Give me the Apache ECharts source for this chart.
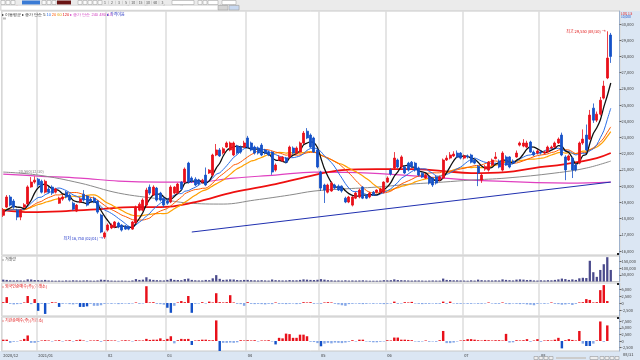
<!DOCTYPE html>
<html><head><meta charset="utf-8">
<script src="https://cdn.jsdelivr.net/npm/echarts@6/dist/echarts.min.js"></script>
<style>html,body{margin:0;padding:0;background:#fff}#c{width:640px;height:360px}</style>
</head><body><div id="c"></div>
<script>
// ---------- DATA ----------
const monthLabels = [[0,'2020/12'],[10,'2021/01'],[30,'02'],[47,'03'],[70,'04'],[91,'05'],[110,'06'],[132,'07'],[154,'08']];
// [open, close, low, high]
const ohlc = [
[18200,18550,18100,18650],[18710,19330,18650,19450],[19330,18830,18750,19450],[19080,18700,18600,19200],[18520,18090,17900,18600],[18090,18520,17900,18600],[18700,18850,18650,18950],[18900,19950,18850,20050],[19950,20250,19900,20560],[20250,20370,20150,20600],
[20430,20070,19950,20500],[20300,19630,19550,20400],[19630,20300,19550,20400],[19820,19630,19550,19950],[19940,19570,19450,20050],[19630,19820,19550,19900],[18950,19260,18900,19350],[19200,19330,19100,19450],[19630,19330,19250,19700],[19450,19140,19050,19550],
[18950,18580,18500,19050],[18460,18830,18400,18900],[19020,19200,18950,19300],[19500,19140,19050,19760],[19390,18830,18750,19450],[19200,19080,19000,19300],[19260,19010,18950,19350],[19080,18400,18300,19150],[18215,17170,17100,18300],[16860,17110,16750,17200],
[17290,17600,17200,17700],[17420,17600,17350,17700],[17480,17790,17400,17850],[17720,17480,17400,17800],[17600,17290,17200,17650],[17540,17350,17300,17600],[17480,17350,17280,17550],[17350,17790,17300,17850],[17730,18710,17700,18800],[18520,18890,18450,19000],
[18520,19140,18450,19250],[18830,19760,18800,19900],[19940,19570,19450,20100],[19450,19940,19400,20050],[19880,19140,19050,19950],[19570,19140,19050,19650],[19260,18830,18700,19350],[19080,18950,18850,19200],[19020,19940,18950,20050],[19570,19940,19500,20000],
[19570,20130,19500,20200],[20250,19820,19750,20300],[20250,21050,20200,21150],[21420,20250,20150,21500],[20500,20310,20200,20600],[20430,20070,20000,20550],[20370,20130,20050,20450],[20250,20370,20150,20450],[20680,20070,20000,21150],[20810,20990,20750,21050],
[20680,21920,20600,22000],[21920,22230,21850,22600],[22230,21860,21800,22350],[22050,22300,21950,22400],[22410,22660,22350,22750],[22230,22660,22150,22750],[21920,22660,21850,22750],[22470,22040,21950,22550],[22410,22100,22000,22500],[22410,22660,22350,22800],
[22970,22410,22350,23100],[22660,22230,22150,22750],[22410,22040,21950,22500],[22350,22040,21950,22450],[22530,21920,21850,22650],[22230,22040,21950,22300],[22100,21920,21850,22200],[22100,20870,20700,22150],[20990,21300,20900,21400],[21610,21790,21550,21900],
[21550,21790,21500,21850],[21730,21480,21400,21800],[21790,22410,21700,22500],[22350,22040,21950,22450],[22040,22350,21950,22450],[22100,22660,22050,22750],[22660,23270,22600,23400],[23390,22970,22900,23580],[23150,22410,22350,23250],[22970,22100,22050,23050],
[22230,21180,21100,22300],[20870,19880,19700,20950],[20070,19760,18960,20150],[19630,20070,19550,20150],[19700,20190,19650,20300],[20070,19880,19800,20150],[20000,19760,19700,20100],[20000,19700,19600,20050],[19260,19020,18950,19350],[19020,19330,18950,19400],
[18830,19330,18750,19400],[19260,19570,19200,19650],[19330,19760,19250,19850],[19940,19260,19200,20000],[19450,19260,19200,19500],[19330,19570,19250,19650],[19630,19450,19400,19700],[19630,19760,19550,19800],[19630,19820,19550,19900],[19630,20250,19550,20300],
[20250,20500,20200,20600],[20990,20750,20650,21100],[21120,21730,21050,22100],[21610,21180,21100,21700],[21180,21800,21100,21900],[21180,20810,20750,21250],[21420,20990,20900,21500],[21480,21180,21100,21550],[21420,20990,20900,21500],[21120,20680,20600,21200],
[20800,20560,20500,20850],[20500,20680,20450,20750],[20560,20190,20100,20650],[20500,20070,19950,20550],[20560,20190,20100,20650],[20375,20560,20300,20650],[20500,21610,20450,21700],[21610,21730,21550,21900],[21730,21920,21650,22100],[21860,21980,21800,22150],
[22040,21800,21750,22200],[22040,21730,21650,22100],[21730,21860,21650,21950],[21860,21800,21700,21950],[21920,21480,21400,22000],[21610,21420,21350,21700],[21230,20810,20000,21300],[20375,20680,20200,20750],[21050,21200,20950,21300],[20990,21480,20900,21550],
[21300,21610,21250,21700],[21700,21800,21650,22100],[21550,21180,21100,21650],[20990,22040,20900,22150],[21800,21300,21250,21900],[21800,21180,21100,21850],[21550,21420,21350,21650],[21800,22040,21750,22200],[22530,22660,22450,22750],[22470,22660,22400,22900],
[22410,22660,22350,22800],[22720,22100,22050,22800],[22100,21920,21850,22200],[22040,22170,21950,22250],[22100,22040,21950,22200],[22040,22100,21950,22200],[22100,22410,22050,22500],[22350,22410,22300,22500],[22410,22660,22350,22750],[22660,22900,22600,23000],
[23150,21920,21850,23300],[21800,21000,20370,21900],[21610,21860,21550,21950],[21730,21000,20500,21800],[21300,21000,20900,21400],[21420,22660,21350,22750],[22660,22900,22550,23500],[23150,22230,22150,23800],[22900,24380,22850,24700],[24810,24070,23900,25100],
[24070,24440,23950,24600],[24440,25300,24350,25500],[25430,26170,25350,26500],[26670,27900,26600,29550],[29320,28000,27600,29450]
];
// closes of the days just before the visible window (for the short averages)
const priorCloses = [18750,18600,18900,18700,18450,18600,18800,18650,18500,18350,18600,18700,18450,18300,18400,18550,18300,18150,18400];
const volume = [
14000,12000,9000,8000,9000,8000,7000,16000,15000,11000,
10000,9000,12000,8000,7000,6000,7000,6000,8000,7000,
9000,8000,7000,8000,9000,7000,6000,8000,14000,12000,
9000,7000,6000,6000,7000,6000,5000,8000,18000,12000,
14000,32000,16000,12000,10000,9000,8000,12000,20000,12000,
11000,10000,18000,22000,12000,9000,8000,8000,12000,10000,
24000,48000,20000,12000,14000,16000,15000,11000,10000,12000,
12000,10000,9000,8000,10000,8000,7000,15000,10000,9000,
8000,8000,11000,9000,9000,12000,16000,14000,12000,11000,
13000,18000,14000,10000,9000,7000,8000,7000,9000,7000,
8000,7000,8000,9000,7000,6000,6000,6000,7000,10000,
9000,10000,16000,11000,10000,9000,8000,7000,8000,8000,
7000,6000,7000,8000,7000,7000,22000,12000,11000,9000,
9000,8000,7000,6000,9000,7000,14000,10000,8000,9000,
8000,9000,8000,16000,12000,10000,8000,14000,16000,14000,
11000,12000,8000,7000,9000,8000,10000,9000,12000,16000,
22000,18000,12000,16000,12000,24000,28000,26000,156000,70000,
35000,87000,130000,183000,87000
];
const foreignNet = [
300,2100,-300,-500,-400,-300,200,2500,-400,1400,
-2800,-300,-3900,-200,300,200,-1400,-300,-200,-400,
-500,-300,-1400,-1400,-1200,-300,-1000,-1000,-800,-300,
-200,-300,-200,-400,-300,-200,-300,-200,200,-300,
-200,6000,200,300,-300,-400,-600,-1700,-3500,-1000,
200,700,300,2500,-3500,-300,-200,300,-200,500,
200,3500,300,200,300,2800,200,-300,-400,-1000,
300,-300,-400,-300,-400,-500,-300,-400,200,-300,
-300,-400,-300,-200,-400,-300,300,200,300,-300,
-200,-300,200,300,200,-300,-500,-800,-1000,-400,
-300,-200,-300,-400,-300,-200,-300,-200,-300,-400,
-300,-200,500,-300,-200,300,200,400,-200,-300,
-400,-300,-300,-200,-300,-300,500,-300,500,-200,
-300,-300,-200,-300,-300,-200,-300,-300,-200,200,
-200,-300,-300,200,-300,-400,-200,-300,-400,-300,
-500,-600,-800,-300,-200,-300,-200,200,-300,-400,
-600,-500,-300,-700,-300,200,300,1400,1100,200,
300,4600,6400,700,0
];
const instNet = [
500,500,-700,-300,-200,200,800,2100,-700,-700,
-300,200,300,200,-200,200,300,-200,200,300,
-200,300,500,200,-200,200,200,300,-300,200,
300,200,200,-200,200,300,200,-200,300,200,
200,800,400,500,500,1000,300,800,1800,-900,
300,800,700,800,-1500,200,300,500,500,300,
300,7800,-3800,-700,-700,-600,-700,-500,300,200,
300,200,300,-200,200,200,300,-200,-1300,1200,
1000,2800,2600,1200,1200,2400,2400,1800,-300,-400,
-800,-2000,-1000,-700,-900,-600,-700,-800,-600,-300,
300,-200,500,500,-200,-300,-500,-500,-300,-200,
300,200,1300,1300,500,500,400,300,-200,-300,
-200,200,-300,-200,-300,300,3800,-800,-800,-600,
-200,200,300,700,700,500,300,200,400,300,
200,300,300,200,2700,-600,-500,300,200,300,
700,-300,200,700,-300,200,300,200,500,1200,
-2800,300,700,400,200,3800,-1000,-1900,-1900,-1000,
200,7400,-300,5900,0
];
// long averages: [dayIndex, value]
const ma60Pts = [[0,18524],[8,18400],[18,18462],[28,18585],[37,18709],[45,18709],[55,19017],[66,19634],[78,20128],[89,20683],[97,20992],[107,21054],[117,21054],[126,20930],[134,20807],[144,20869],[152,21115],[161,21362],[170,21732],[174,22041]];
const ma120Pts = [[0,20868],[10,20683],[22,20190],[33,19573],[45,19203],[53,18956],[63,18894],[72,19141],[82,19449],[89,19696],[97,19820],[107,19943],[117,20128],[126,20251],[134,20375],[144,20498],[158,20807],[167,21115],[174,21547]];
const ma240Pts = [[0,20745],[10,20622],[22,20498],[33,20313],[45,20251],[55,20251],[66,20498],[78,20683],[89,20868],[105,20807],[126,20498],[134,20375],[162,20190],[174,20251]];
const trendLine = [[54,17170],[174,20250]];
const priceTicks = [16000,17000,18000,19000,20000,21000,22000,23000,24000,25000,26000,27000,28000,29000,30000];
const volTicks = [50000,100000,150000];
const foreignTicks = [-2500,0,2500,5000];
const instTicks = [-2500,0,2500,5000,7500];
const lastPrice = 28000, lastVolume = 87000;
const highMark = [173,29550,'최고 29,550 (08/30) →'];
const lowMark = [29,16750,'최저 16,750 (02/01) →'];
const prevMark = [8,20600,'20,560(12/30)'];

// ---------- BUILD ----------
const N = ohlc.length, SLOTS = N + 2;
const cats = Array.from({length:SLOTS},(_,i)=>String(i));
const monthIdx = monthLabels.map(m=>m[0]);
const labelMap = Object.fromEntries(monthLabels);
const closes = ohlc.map(d=>d[1]);
const allC = priorCloses.concat(closes);
function ma(n){return closes.map((_,i)=>{const j=i+priorCloses.length;if(j<n-1)return null;let s=0;for(let k=j-n+1;k<=j;k++)s+=allC[k];return Math.round(s/n);});}
const fmt = v=>v.toLocaleString('en-US');
const FF = "'Noto Sans CJK KR','Liberation Sans',sans-serif";
const FS = 4;

function xAx(gi, showLabel){
  return {type:'category',gridIndex:gi,data:cats,boundaryGap:true,
    axisLine:{show:false},axisTick:{show:false},
    axisLabel:{show:showLabel,interval:(i)=>monthIdx.includes(i),formatter:(v)=>labelMap[+v]||'',align:'left',fontSize:FS,color:'#333',margin:2,fontFamily:FF},
    splitLine:{show:true,interval:(i)=>monthIdx.includes(i),lineStyle:{color:'#dcdcdc',width:1.5}}};
}
function yAx(gi,min,max,ticks){
  return {type:'value',gridIndex:gi,position:'right',min,max,
    axisLine:{show:true,lineStyle:{color:'#9fb2cc'}},
    axisTick:{show:true,customValues:ticks,length:2,lineStyle:{color:'#666'}},
    axisLabel:{customValues:ticks,formatter:(v)=>fmt(v),fontSize:FS,color:'#444',margin:2,fontFamily:FF},
    splitLine:{show:false}};
}
function netColor(v){ if(v>=0) return '#e8101a'; return v < -1000 ? '#1451c8' : '#86a8e8'; }
function line(data,color,width,smooth){return {type:'line',xAxisIndex:0,yAxisIndex:0,data,symbol:'none',smooth:smooth||0,connectNulls:true,silent:true,lineStyle:{color,width},z:3};}

const G = {left:1.5,right:20.5,show:true,borderColor:'#c8c8c8',borderWidth:1,backgroundColor:'#fff'};
const txt = (x,y,t,c,extra)=>Object.assign({type:'text',x,y,style:{text:t,fill:c||'#333',fontSize:FS,fontFamily:FF,verticalAlign:'middle'}},extra||{});
const rect = (x,y,w,h,fill,stroke,z)=>({type:'rect',shape:{x,y,width:w,height:h},style:{fill,stroke:stroke||null,lineWidth:stroke?0.5:0},z:z===undefined?5:z});

const graphic = [
  rect(0,0,640,11,'#ebebeb',null,-10),
  rect(620,11,20,340,'#dbe6f3',null,-10),
  rect(0,351,640,9,'#dbe6f3',null,-10),
  // toolbar row 1
  rect(1,0.5,4,4,'#fafafa','#999'),rect(6,0.5,4,4,'#fafafa','#999'),rect(11,0.5,4,4,'#fafafa','#999'),
  rect(22,0.5,18,4,'#3a7bd5'),txt(24,2.6,'종합','#fff',{style:{text:'0000',fill:'#fff',fontSize:3,fontFamily:FF,verticalAlign:'middle'}}),
  rect(42,0.5,4,4,'#fafafa','#999'),rect(47,0.5,4,4,'#fafafa','#999'),rect(52,0.5,4,4,'#fafafa','#999'),
  rect(57,0.5,14,4,'#6a1414'),txt(59,2.6,'KOSPI','#fff',{style:{text:'KOSPI',fill:'#fff',fontSize:3,fontFamily:FF,verticalAlign:'middle'}}),
  rect(78,0.5,4,4,'#fafafa','#999'),rect(83,0.5,4,4,'#fafafa','#999'),rect(88,0.5,4,4,'#fafafa','#999'),rect(93,0.5,4,4,'#fafafa','#999'),rect(98,0.5,4,4,'#fafafa','#999'),
  txt(104,2.6,'1 │ 2 │ 3 │ 5 │10│15│30│60│ 3 ','#555',{style:{text:'1 │ 2 │ 3 │ 5 │10│15│30│60│ 3 ',fill:'#555',fontSize:3.5,fontFamily:FF,verticalAlign:'middle'}}),
  rect(172,0.5,22,4,'#fff','#999'),rect(198,0.5,4,4,'#fafafa','#999'),rect(203,0.5,4,4,'#fafafa','#999'),rect(208,0.5,10,4,'#fff','#999'),rect(222,0.5,14,4,'#fff','#999'),
  // toolbar row 2
  rect(1,5.2,238,5,'#fff','#bbb'),
  txt(2,7.7,'28,000 ▲','#e00000'),txt(27,7.7,'100','#e00000'),txt(36,7.7,'+0.36%','#e00000'),
  txt(52,7.7,'2,866,195','#222'),txt(74,7.7,'41.94%','#1451c8'),txt(90,7.7,'62,436','#222'),
  txt(108,7.7,'시','#222'),txt(112,7.7,'29,300','#e00000'),txt(126,7.7,'고','#222'),txt(130,7.7,'29,450','#e00000'),
  txt(144,7.7,'저','#222'),txt(148,7.7,'27,600','#1451c8'),txt(162,7.7,'상','#222'),txt(166,7.7,'36,250','#e00000'),
  txt(180,7.7,'하','#222'),txt(184,7.7,'19,550','#1451c8'),txt(198,7.7,'28,500','#e00000'),
  rect(218,5.5,10,4.4,'#d4d4d4','#999'),txt(219.5,7.7,'현재','#222'),
  rect(229,5.5,10,4.4,'#c8d8f0','#999'),txt(230.5,7.7,'일중','#222'),
  // legend line
  {type:'text',x:2,y:14.5,style:{text:'{d|▸ 이동평균 ▸ 종가 단순} {k|5} {b|10} {o|20} {g|60} {r|120} {m|▸ 종가 단순 240 480 1.5}',fontSize:FS,fontFamily:FF,verticalAlign:'middle',
    rich:{d:{fill:'#222',fontSize:FS},k:{fill:'#111',fontSize:FS},b:{fill:'#2a6ee8',fontSize:FS},o:{fill:'#ff5a00',fontSize:FS},g:{fill:'#e0a000',fontSize:FS},r:{fill:'#e01010',fontSize:FS},m:{fill:'#d040c0',fontSize:FS}}},z:5},
  txt(107,14.5,'▸ 가격이음','#2030c0'),
  rect(3,17.5,3,2,'#bbb'),
  txt(621,13.5,'LOG','#e01010',{style:{text:'LOG 1.5',fill:'#e01010',fontSize:3.2,fontFamily:FF,verticalAlign:'middle'}}),
  txt(621,17,'30,000','#1451c8',{style:{text:'10,000',fill:'#1451c8',fontSize:3.2,fontFamily:FF,verticalAlign:'middle'}}),
  // panel labels
  txt(2,259,'▸ 거래량','#444'),
  txt(2,286,'▸ 외국인순매수(주)(거래소)','#e01010'),
  txt(2,320,'▸ 기관순매수(주)(거래소)','#e01010'),
  rect(617,253,2,2,'#222'),rect(617,283,2,2,'#222'),rect(617,317,2,2,'#222'),
  txt(623,354,'08/31','#333'),
  // bottom controls
  rect(534,356.5,4,3,'#eee','#888'),rect(539,356.5,4,3,'#eee','#888'),rect(544,356.5,4,3,'#eee','#888'),rect(549,356.5,4,3,'#eee','#888'),
  rect(556,357,30,2,'#ccc'),rect(590,356.5,8,3,'#eee','#888'),rect(600,356.5,4,3,'#eee','#888'),rect(605,356.5,4,3,'#eee','#888'),rect(610,356.5,4,3,'#eee','#888'),rect(615,356.5,4,3,'#eee','#888')
];

const option = {
  animation:false,
  textStyle:{fontFamily:FF},
  grid:[
    Object.assign({top:11,height:244},G),
    Object.assign({top:256,height:25.5},G),
    Object.assign({top:283,height:33},G),
    Object.assign({top:317,height:34},G)
  ],
  xAxis:[xAx(0,false),xAx(1,false),xAx(2,false),xAx(3,true)],
  yAxis:[yAx(0,15753,30802,priceTicks),yAx(1,0,192000,volTicks),yAx(2,-4640,7150,foreignTicks),yAx(3,-3790,9090,instTicks)],
  graphic,
  series:[
    line(ma240Pts,'#e040c0',1.2,0.4),
    line(ma120Pts,'#8a8a8a',1,0.4),
    line(ma60Pts,'#ee1010',1.8,0.4),
    Object.assign(line(ma(20),'#ffa000',1.2,0.3),{}),
    line(ma(15),'#ff5a00',1,0.3),
    line(ma(10),'#2a6ee8',1,0.3),
    line(ma(5),'#111111',1.3,0.3),
    {type:'candlestick',xAxisIndex:0,yAxisIndex:0,data:ohlc,barWidth:'72%',z:4,silent:true,
      itemStyle:{color:'#e8101a',color0:'#1451c8',borderColor:'#e8101a',borderColor0:'#1451c8',borderWidth:0.8},
      markLine:{symbol:'none',silent:true,data:[{yAxis:lastPrice}],lineStyle:{opacity:0},
        label:{position:'end',distance:1,formatter:()=>fmt(lastPrice),backgroundColor:'#e00000',color:'#fff',fontSize:FS,padding:[0.5,3,0.5,2],fontFamily:FF}},
      markPoint:{silent:true,symbol:'circle',symbolSize:1,itemStyle:{color:'rgba(0,0,0,0)'},
        data:[
          {coord:[String(highMark[0]),highMark[1]],label:{show:true,position:'left',distance:1,formatter:highMark[2],color:'#e01010',fontSize:FS,fontFamily:FF}},
          {coord:[String(lowMark[0]),lowMark[1]],label:{show:true,position:'left',distance:1,formatter:lowMark[2],color:'#1a30c8',fontSize:FS,fontFamily:FF}},
          {coord:[String(prevMark[0]),prevMark[1]],label:{show:true,position:'top',distance:2,formatter:prevMark[2],color:'#777',fontSize:FS,fontFamily:FF}}
        ]}},
    {type:'line',xAxisIndex:0,yAxisIndex:0,data:trendLine.map(p=>[String(p[0]),p[1]]),symbol:'none',silent:true,lineStyle:{color:'#2030b0',width:1},z:3},
    {type:'bar',xAxisIndex:1,yAxisIndex:1,data:volume,barWidth:'65%',itemStyle:{color:'#4a4a8c'},silent:true,
      markLine:{symbol:'none',silent:true,data:[{yAxis:lastVolume}],lineStyle:{opacity:0},
        label:{position:'end',distance:1,formatter:()=>fmt(lastVolume),backgroundColor:'#2fc0ee',color:'#fff',fontSize:FS,padding:[0.5,2],fontFamily:FF}}},
    {type:'bar',xAxisIndex:2,yAxisIndex:2,data:foreignNet.map(v=>({value:v,itemStyle:{color:netColor(v)}})),barWidth:'70%',silent:true},
    {type:'bar',xAxisIndex:3,yAxisIndex:3,data:instNet.map(v=>({value:v,itemStyle:{color:netColor(v)}})),barWidth:'70%',silent:true}
  ]
};
const chart = echarts.init(document.getElementById('c'),null,{renderer:'canvas'});
chart.setOption(option);
</script></body></html>
